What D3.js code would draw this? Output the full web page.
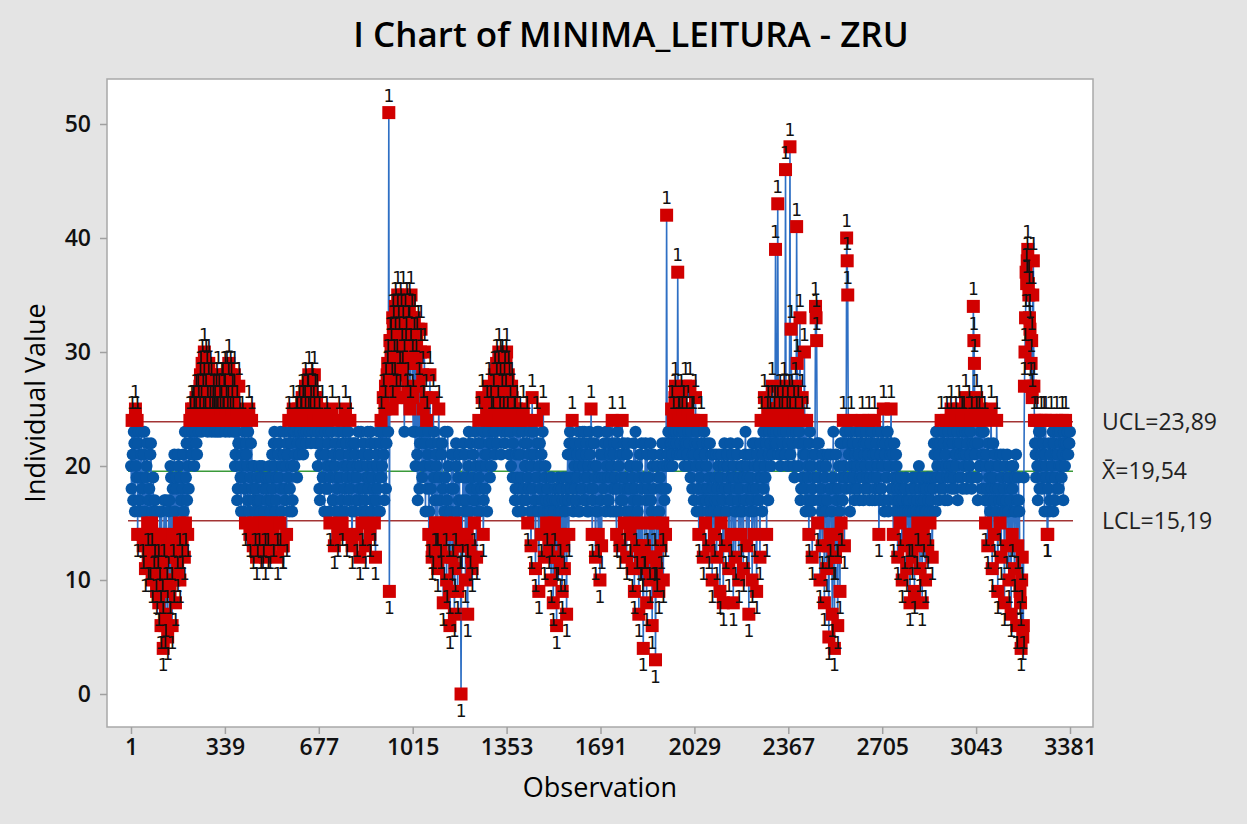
<!DOCTYPE html>
<html>
<head>
<meta charset="utf-8">
<script src="https://cdn.jsdelivr.net/npm/d3@7"></script>
<style>
  body { margin: 0; background: #e4e4e4; }
  svg { display: block; }
</style>
</head>
<body>
<svg width="1247" height="824"></svg>
<script>
const minimaA = [
  // obs 1-97
  20,24,17,22,25,19,14,23,16,21,18,13,23,11,20,15,17,12,22,10,19,14,16,9,13,
  // obs 101-197
  8,16,6,11,4,17,7,12,5,16,9,19,6,14,21,8,18,11,20,10,17,13,21,12,15,
  // obs 201-297
  22,14,18,24,21,23,25,20,24,22,26,23,27,25,29,24,30,26,28,23,29,25,27,24,26,
  // obs 301-397
  25,24,27,23,26,24,25,27,24,26,23,28,25,29,24,27,26,23,28,21,25,18,27,22,16,
  // obs 401-497
  24,19,23,15,21,17,25,14,22,18,13,20,16,12,19,15,17,13,20,14,16,12,18,15,19,
  // obs 501-597
  13,17,21,14,23,16,19,12,22,15,18,20,13,23,17,14,21,24,18,22,16,25,20,23,24,
  // obs 601-697
  22,25,23,24,26,21,25,27,23,26,28,24,22,27,25,28,23,26,20,24,17,22,25,19,16,
  // obs 701-797
  21,24,18,23,15,20,25,17,13,22,19,14,24,16,21,15,23,18,25,14,20,17,24,22,13,
  // obs 801-897
  19,16,22,14,20,17,12,23,15,18,21,13,16,23,19,14,22,17,20,15,12,21,18,23,16,
  // obs 901-997
  24,20,26,17,27,22,29,51,31,30,25,32,27,34,29,35,31,26,33,28,35,23,30,34,27,
  // obs 1001-1097
  32,25,35,29,23,33,20,31,17,27,22,32,19,25,30,16,24,21,14,28,18,12,26,23,15,
  // obs 1101-1197
  20,11,25,17,13,22,8,16,19,10,23,14,6,18,12,21,7,15,20,9,17,13,0,14,22,
  // obs 1201-1297
  16,10,19,7,23,13,18,11,21,15,17,12,22,24,16,20,26,14,23,18,25,21,27,19,24,
  // obs 1301-1397
  22,26,28,23,29,25,30,27,21,29,24,28,26,30,23,27,25,20,26,22,24,18,25,16,21,
  // obs 1401-1497
  24,19,17,25,22,20,24,15,18,23,13,26,16,21,11,24,19,9,22,14,17,25,12,20,15,
  // obs 1501-1597
  18,13,16,10,19,8,15,17,6,12,18,14,16,9,19,11,17,7,21,14,23,18,24,16,20,
  // obs 1601-1697
  22,17,19,23,16,21,18,20,23,17,22,19,16,21,25,14,18,22,12,20,16,23,10,17,21,
  // obs 1701-1797
  18,22,16,20,23,17,21,19,24,16,22,18,14,23,20,13,17,24,21,15,19,12,22,16,14,
  // obs 1801-1897
  20,11,17,9,23,13,16,7,21,12,18,4,13,22,8,15,19,10,17,6,21,12,3,11,16,
  // obs 1901-1997
  9,19,13,22,10,17,14,42,21,23,20,22,21,24,23,27,22,37,24,21,26,23,25,20,27,
  // obs 2001-2097
  22,25,20,27,23,18,24,21,26,16,22,14,19,24,17,12,23,15,20,18,13,22,16,10,21,
  // obs 2101-2197
  14,19,12,17,21,9,15,18,8,22,13,16,20,11,17,14,21,8,19,12,16,22,10,18,14,
  // obs 2201-2297
  20,11,17,23,13,19,7,16,21,10,18,14,22,9,17,20,12,24,16,23,26,19,14,25,21,
  // obs 2301-2397
  24,20,27,23,25,39,22,43,24,26,21,25,23,27,46,24,20,26,48,32,23,25,19,27,41,
  // obs 2401-2497
  25,22,33,18,26,21,30,16,24,20,14,23,17,12,21,19,34,31,15,22,10,18,13,20,8,
  // obs 2501-2597
  16,11,21,5,14,18,7,23,4,12,17,6,20,9,15,22,24,13,19,40,35,21,16,24,18,
  // obs 2601-2697
  22,17,20,23,18,21,19,23,24,17,21,20,22,18,24,19,23,17,21,24,18,22,20,14,17,
  // obs 2701-2797
  23,20,25,16,22,19,23,17,21,25,18,14,22,16,20,12,17,15,19,10,16,13,18,11,17,
  // obs 2801-2897
  14,8,18,12,16,9,19,13,15,20,11,17,8,14,18,10,16,13,19,15,17,12,18,21,16,
  // obs 2901-2997
  23,19,17,22,24,20,18,23,21,24,17,22,19,25,20,23,18,24,21,17,25,22,19,23,24,
  // obs 3001-3097
  20,26,18,23,25,21,24,19,34,29,22,26,17,24,20,25,23,18,24,15,21,13,19,16,25,
  // obs 3101-3197
  11,22,14,18,24,9,20,15,12,17,21,8,16,13,19,10,18,7,14,20,11,16,6,13,17,
  // obs 3201-3297
  9,4,12,6,27,33,36,39,35,32,29,26,38,24,21,24,17,23,20,24,18,22,16,24,19,
  // obs 3301-3381
  14,22,17,24,20,16,23,19,24,21,18,23,20,24,17,22,24,21,23,22,23
];

// leituras nas obs 3, 7, 11, ... (passo 4)
const minimaB = [
  // obs 3-99
  18,21,23,16,20,24,22,17,19,23,14,21,16,19,22,12,18,21,15,16,13,17,11,16,14,
  // obs 103-199
  12,10,16,9,14,6,17,10,13,17,20,12,18,10,16,19,13,21,15,19,14,18,16,23,19,
  // obs 203-299
  17,20,23,22,25,21,24,23,26,21,25,24,28,23,26,27,24,29,25,27,24,28,23,25,24,
  // obs 303-399
  23,26,24,28,25,23,27,24,26,28,25,24,27,23,28,25,24,26,20,23,17,22,24,19,20,
  // obs 403-499
  21,16,18,22,20,23,16,19,24,20,17,15,18,14,17,20,16,19,13,18,15,19,17,13,20,
  // obs 503-599
  16,19,18,22,20,17,15,21,19,23,16,13,21,18,20,22,19,16,23,20,17,23,21,24,19,
  // obs 603-699
  23,21,24,22,25,23,24,22,26,24,23,25,27,23,24,26,22,25,23,18,21,23,19,21,23,
  // obs 703-799
  18,20,22,16,19,23,17,21,20,16,18,23,21,19,17,22,20,16,22,19,23,21,18,16,20,
  // obs 803-899
  22,21,17,19,23,18,20,16,21,22,17,19,20,18,21,23,16,19,18,22,17,20,16,19,22,
  // obs 903-999
  19,23,21,25,18,28,23,9,31,27,33,29,31,26,33,32,28,34,30,32,29,33,31,26,32,
  // obs 1003-1099
  34,30,33,26,31,23,29,21,32,18,30,23,28,20,22,26,18,23,16,20,22,13,19,17,21,
  // obs 1103-1199
  15,22,19,14,21,18,12,23,15,17,20,9,16,21,14,18,11,22,16,19,21,13,13,17,19,
  // obs 1203-1299
  21,17,14,20,16,22,12,19,17,23,20,18,16,19,22,18,23,17,21,20,16,23,22,25,20,
  // obs 1303-1399
  24,23,21,27,22,28,24,29,26,23,27,22,29,24,28,21,23,27,19,24,17,21,19,23,18,
  // obs 1403-1499
  21,16,23,18,20,17,22,19,21,16,20,18,23,17,19,22,16,20,18,21,23,16,19,17,18,
  // obs 1503-1599
  16,17,19,14,17,16,18,12,17,19,16,11,18,17,13,16,19,18,17,22,19,21,17,22,18,
  // obs 1603-1699
  19,21,16,20,22,18,23,17,19,21,16,20,23,18,22,17,20,19,16,23,14,19,21,13,19,
  // obs 1703-1799
  21,19,23,17,19,22,16,20,18,21,19,16,22,18,16,21,19,17,22,18,16,21,18,20,18,
  // obs 1803-1899
  16,19,22,18,15,20,17,19,12,22,11,13,19,17,21,18,12,22,16,20,18,15,12,20,19,
  // obs 1903-1999
  16,21,18,15,20,22,18,20,23,21,22,25,20,22,26,23,21,24,23,22,24,21,23,22,24,
  // obs 2003-2099
  21,23,22,19,24,21,17,22,20,23,18,21,16,20,22,18,21,17,22,16,19,17,21,18,16,
  // obs 2103-2199
  17,21,18,20,16,19,21,17,20,18,16,21,19,18,22,17,19,20,16,18,21,17,19,16,20,
  // obs 2203-2299
  16,19,21,17,20,18,21,19,17,22,16,20,18,21,19,17,22,19,21,18,20,22,24,17,23,
  // obs 2303-2399
  22,25,21,24,22,23,25,21,23,20,24,22,26,21,23,25,22,24,21,26,22,20,24,23,29,
  // obs 2403-2499
  20,23,17,24,19,22,18,21,17,19,22,16,20,18,17,21,33,22,19,17,20,16,21,17,19,
  // obs 2503-2599
  20,17,13,18,21,16,19,12,18,21,14,18,16,22,19,17,20,23,18,38,22,19,23,20,22,
  // obs 2603-2699
  19,21,18,20,22,17,23,20,19,22,18,23,19,21,17,22,20,23,19,17,21,19,23,18,21,
  // obs 2703-2799
  18,22,17,21,19,23,16,20,22,18,21,19,17,21,18,19,16,18,16,17,18,16,19,17,16,
  // obs 2803-2899
  17,16,14,19,17,18,16,17,19,16,18,16,19,17,16,18,19,17,16,18,19,16,22,19,23,
  // obs 2903-2999
  20,22,21,18,19,23,22,17,20,19,23,20,24,18,22,19,21,20,23,22,19,21,24,18,21,
  // obs 3003-3099
  23,21,22,19,20,23,18,22,31,21,24,19,22,20,23,18,21,23,17,20,18,22,17,20,18,
  // obs 3103-3199
  19,17,21,16,20,18,17,21,19,16,18,20,17,21,16,19,17,20,18,16,19,21,17,19,16,
  // obs 3203-3299
  8,10,5,19,30,37,38,36,33,27,31,35,27,22,19,20,22,18,23,21,19,24,21,20,14,
  // obs 3303-3379
  18,16,21,19,23,22,17,21,18,23,20,22,19,21,23,20,22,23,21,22
];

// limites de controle
const UCL = 23.89, CL = 19.54, LCL = 15.19;
const limitLabels = ["UCL=23,89", "X\u0304=19,54", "LCL=15,19"];

// ticks
const xTicks = [1, 339, 677, 1015, 1353, 1691, 2029, 2367, 2705, 3043, 3381];
const yTicks = [0, 10, 20, 30, 40, 50];

let svg = d3.select("svg"),
    width = +svg.attr("width"),
    height = +svg.attr("height");

// junta as duas listas na ordem das observacoes
let data = minimaA.map((v, i) => ({ obs: 1 + i * 4, v: v }))
    .concat(minimaB.map((v, i) => ({ obs: 3 + i * 4, v: v })))
    .sort((a, b) => a.obs - b.obs);
// teste 1: ponto fora dos limites
data.forEach(d => { d.out = d.v > UCL || d.v < LCL; });

let x = d3.scaleLinear().domain([1, 3381]).range([131, 1070]);
let y = d3.scaleLinear().domain([0, 50]).range([694, 124]);

// fundo cinza + area do grafico
svg.append("rect").attr("width", width).attr("height", height).attr("fill", "#e4e4e4");
svg.append("rect")
    .attr("x", 107).attr("y", 79).attr("width", 986).attr("height", 648)
    .attr("fill", "#fff").attr("stroke", "#a8a8a8").attr("stroke-width", 1.5);

// titulo
svg.append("text")
    .attr("x", 631).attr("y", 47)
    .attr("text-anchor", "middle")
    .style("font-family", "'Open Sans', sans-serif")
    .style("font-size", "35px").style("font-weight", 600)
    .text("I Chart of MINIMA_LEITURA - ZRU");

// eixos
let xAxis = svg.append("g")
    .attr("transform", "translate(0,727)")
    .call(d3.axisBottom(x).tickValues(xTicks).tickSize(7).tickPadding(5).tickFormat(d3.format("d")));
let yAxis = svg.append("g")
    .attr("transform", "translate(107,0)")
    .call(d3.axisLeft(y).tickValues(yTicks).tickSize(7).tickPadding(9));

[xAxis, yAxis].forEach(g => {
    g.select(".domain").remove();
    g.selectAll(".tick line").attr("stroke", "#a0a0a0").attr("stroke-width", 1.5);
    g.selectAll(".tick text")
        .attr("fill", "#111")
        .style("font-family", "'Open Sans', sans-serif")
        .style("font-size", "23px").style("font-weight", 600);
});

svg.append("text")
    .attr("x", 600).attr("y", 797)
    .attr("text-anchor", "middle")
    .style("font-family", "'Open Sans', sans-serif")
    .style("font-size", "27px").style("font-weight", 500)
    .text("Observation");

svg.append("text")
    .attr("transform", "translate(45,403) rotate(-90)")
    .attr("text-anchor", "middle")
    .style("font-family", "'Open Sans', sans-serif")
    .style("font-size", "27px").style("font-weight", 500)
    .text("Individual Value");

// linhas de controle
let limits = [
    { v: UCL, color: "#a33434", label: limitLabels[0] },
    { v: CL, color: "#3a9a3a", label: limitLabels[1] },
    { v: LCL, color: "#a33434", label: limitLabels[2] }
];
svg.append("g").selectAll("line")
    .data(limits).enter().append("line")
    .attr("x1", x(1) - 3).attr("x2", x(3381) + 3)
    .attr("y1", d => y(d.v)).attr("y2", d => y(d.v))
    .attr("stroke", d => d.color).attr("stroke-width", 1.5);

svg.append("g").selectAll("text")
    .data(limits).enter().append("text")
    .attr("x", 1102).attr("y", d => y(d.v) + 8)
    .attr("fill", "#222")
    .style("font-family", "'Open Sans', sans-serif")
    .style("font-size", "23px")
    .text(d => d.label);

// serie
let line = d3.line().x(d => x(d.obs)).y(d => y(d.v));
svg.append("path")
    .datum(data)
    .attr("d", line)
    .attr("fill", "none")
    .attr("stroke", "#2e6fc4")
    .attr("stroke-width", 1.6);

svg.append("g").selectAll("circle")
    .data(data.filter(d => !d.out)).enter().append("circle")
    .attr("cx", d => x(d.obs)).attr("cy", d => y(d.v))
    .attr("r", 6)
    .attr("fill", "#0656a6");

svg.append("g").selectAll("rect")
    .data(data.filter(d => d.out)).enter().append("rect")
    .attr("x", d => x(d.obs) - 6.5).attr("y", d => y(d.v) - 6.5)
    .attr("width", 13).attr("height", 13)
    .attr("fill", "#d10000");

// rotulos do teste 1
svg.append("g").selectAll("text")
    .data(data.filter(d => d.out)).enter().append("text")
    .attr("x", d => x(d.obs))
    .attr("y", d => d.v > UCL ? y(d.v) - 11 : y(d.v) + 23)
    .attr("text-anchor", "middle")
    .attr("fill", "#111")
    .style("font-family", "'DejaVu Sans', sans-serif")
    .style("font-size", "17px")
    .text("1");
</script>
</body>
</html>
